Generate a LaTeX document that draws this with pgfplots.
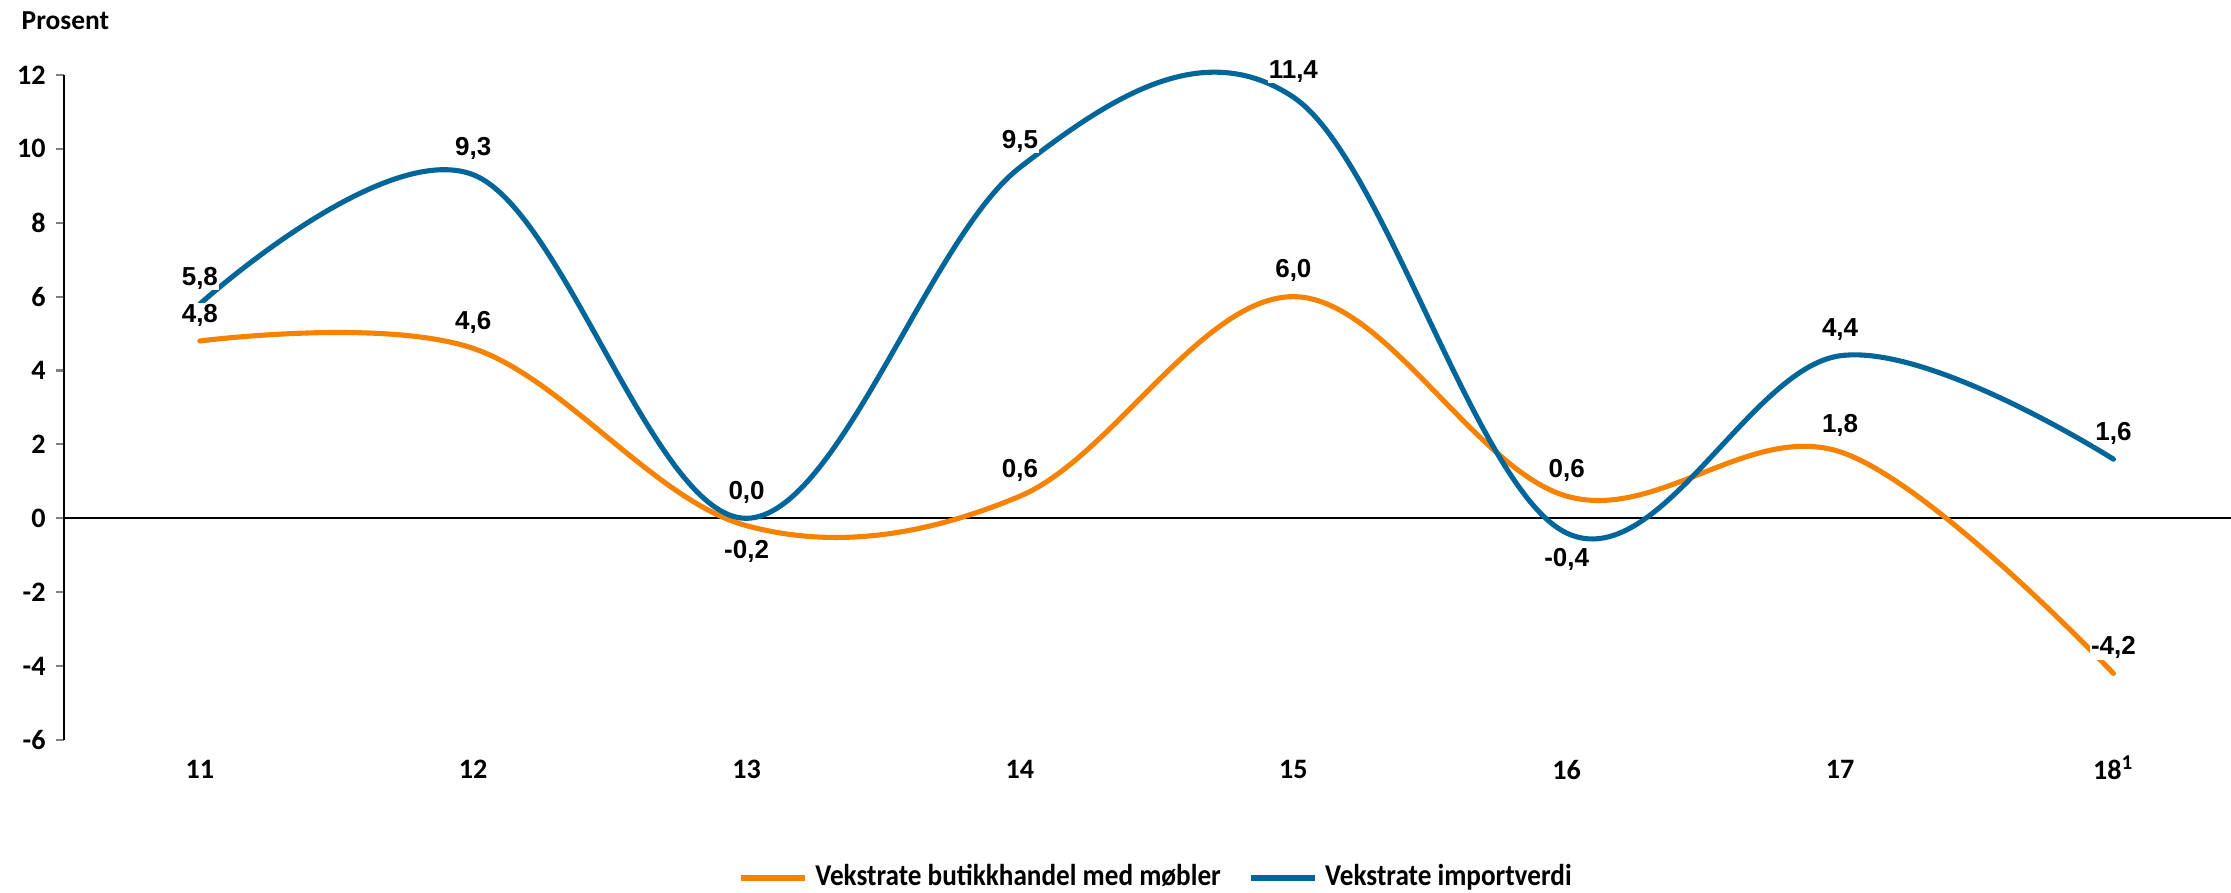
\documentclass[border=0pt]{standalone}
\usepackage{fontspec}
\usepackage{pgfplots}
\usepackage{pgfplotstable}
\pgfplotsset{compat=1.18}
\newfontfamily\carl{Carlito}
\newfontfamily\carlleg{Carlito}[FakeStretch=0.9]
\newfontfamily\arl{Liberation Sans}
\definecolor{orgc}{RGB}{245,130,0}
\definecolor{bluc}{RGB}{0,102,153}

\pgfplotstableread{
x y lab pos
11 4.8 4,8 1
12 4.6 4,6 1
13 -0.2 -0,2 -1
14 0.6 0,6 1
15 6.0 6,0 1
16 0.6 0,6 1
17 1.8 1,8 1
18 -4.2 -4,2 1
}\butikktab

\pgfplotstableread{
x y lab pos
11 5.8 5,8 1
12 9.3 9,3 1
13 0.0 0,0 1
14 9.5 9,5 1
15 11.4 11,4 1
16 -0.4 -0,4 -1
17 4.4 4,4 1
18 1.6 1,6 1
}\importtab

\pgfplotsset{lbl/.style={
  nodes near coords,
  point meta=explicit symbolic,
  visualization depends on={\thisrow{pos} \as \lpos},
  every node near coord/.append style={anchor=center, yshift=\lpos*0.26cm,
    font=\arl\bfseries\fontsize{7.4}{8}\selectfont, text=black, fill=white, inner sep=0.3pt}}}

\begin{document}
\begin{tikzpicture}
\begin{axis}[
  scale only axis,
  width=21.67cm, height=6.65cm,
  xmin=10.503, xmax=18.43,
  ymin=-6, ymax=12,
  clip=false,
  axis y line*=left,
  axis x line*=bottom,
  x axis line style={draw=none},
  y axis line style={line width=0.6pt},
  xtick={11,...,18},
  xticklabels={11,12,13,14,15,16,17,18\smash{\textsuperscript{1}}},
  xtick style={draw=none},
  ytick={-6,-4,...,12},
  yticklabels={-6,-4,-2,0,2,4,6,8,10,12},
  ytick style={line width=0.6pt},
  tick align=outside,
  major tick length=0.08cm,
  yticklabel style={font=\carl\bfseries\fontsize{8}{9}\selectfont, xshift=0.02cm},
  xticklabel style={font=\carl\bfseries\fontsize{8}{9}\selectfont},
  legend style={draw=none, at={(axis description cs:0.505,0)}, anchor=center, yshift=-1.38cm,
    font=\carlleg\bfseries\fontsize{8.6}{9}\selectfont, legend columns=2,
    /tikz/every even column/.append style={column sep=0.2cm}},
  legend image code/.code={\draw[#1, line width=1.8pt, line cap=butt] (0cm,0cm) -- (0.64cm,0cm);},
]
\draw[black, line width=0.6pt] (axis cs:10.503,0) -- (axis cs:18.43,0);
\addplot[orgc, line width=1.45pt, smooth, tension=0.6, line cap=round, lbl, forget plot] table[x=x, y=y, meta=lab] {\butikktab};
\addplot[bluc, line width=1.45pt, smooth, tension=0.6, line cap=round, lbl, forget plot] table[x=x, y=y, meta=lab] {\importtab};
\addlegendimage{orgc}
\addlegendentry{Vekstrate butikkhandel med møbler}
\addlegendimage{bluc}
\addlegendentry{Vekstrate importverdi}
\node[anchor=base west, font=\carl\bfseries\fontsize{7.8}{9}\selectfont, inner sep=0pt] at ([shift={(-0.43cm,0.45cm)}]rel axis cs:0,1) {Prosent};
\coordinate (BL) at (rel axis cs:0,0);
\coordinate (TR) at (rel axis cs:1,1);
\end{axis}
\pgfresetboundingbox
\path ([shift={(-0.64cm,-1.53cm)}]BL) rectangle ([shift={(0cm,0.75cm)}]TR);
\end{tikzpicture}
\end{document}
